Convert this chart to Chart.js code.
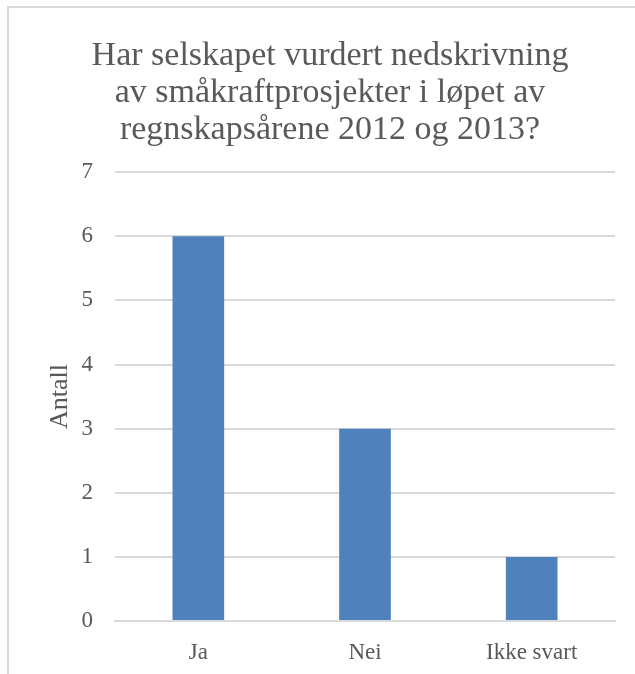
<!DOCTYPE html>
<html>
<head>
<meta charset="utf-8">
<script src="https://cdn.jsdelivr.net/npm/chart.js@4"></script>
<style>
  body { margin: 0; background: #fff; }
  #wrap { position: relative; width: 635px; height: 674px; }
  #frame { position: absolute; left: 7px; top: 6px; right: 0; bottom: 0;
           border-left: 2px solid #d9d9d9; border-top: 2px solid #d9d9d9; pointer-events: none; }
</style>
</head>
<body>
<div id="wrap">
  <canvas id="chart" width="635" height="674"></canvas>
  <div id="frame"></div>
</div>
<script>
// Svarene fra undersøkelsen
const categories = ["Ja", "Nei", "Ikke svart"];
const counts = [6, 3, 1];
const titleLines = ["Har selskapet vurdert nedskrivning", "av småkraftprosjekter i løpet av", "regnskapsårene 2012 og 2013?"];
const yTicks = [0, 1, 2, 3, 4, 5, 6, 7];

const serif = "'Liberation Serif', 'DejaVu Serif', serif";
const grey = "#595959";

const ctx = document.getElementById("chart").getContext("2d");
new Chart(ctx, {
    type: "bar",
    data: {
        labels: categories,
        datasets: [{
            label: "Antall",
            data: counts,
            backgroundColor: "#4f81bd",
            barPercentage: 0.62,
            categoryPercentage: 0.5
        }]
    },
    options: {
        responsive: false,
        animation: false,
        layout: { padding: { left: 45, right: 20, top: 6, bottom: 0 } },
        plugins: {
            legend: { display: false },
            tooltip: { enabled: false },
            title: {
                display: true,
                text: titleLines,
                color: grey,
                font: { family: serif, size: 34, weight: "normal", lineHeight: 1.1 },
                padding: { top: 31, bottom: 23 }
            }
        },
        scales: {
            x: {
                grid: { display: false, drawTicks: false },
                border: { color: "#d9d9d9", width: 2 },
                ticks: { color: grey, font: { family: serif, size: 23 }, padding: 18 },
                afterFit: (axis) => { axis.height = 53; }
            },
            y: {
                min: 0,
                max: yTicks[yTicks.length - 1],
                afterBuildTicks: (axis) => { axis.ticks = yTicks.map(v => ({ value: v })); },
                grid: { color: "#d9d9d9", lineWidth: 2, drawTicks: false },
                border: { display: false },
                ticks: { color: grey, font: { family: serif, size: 23 }, padding: 22 },
                title: {
                    display: true,
                    text: "Antall",
                    color: grey,
                    font: { family: serif, size: 26 },
                    padding: { top: 0, bottom: 0 }
                },
                afterFit: (axis) => { axis.width = 70; }
            }
        }
    }
});
</script>
</body>
</html>
